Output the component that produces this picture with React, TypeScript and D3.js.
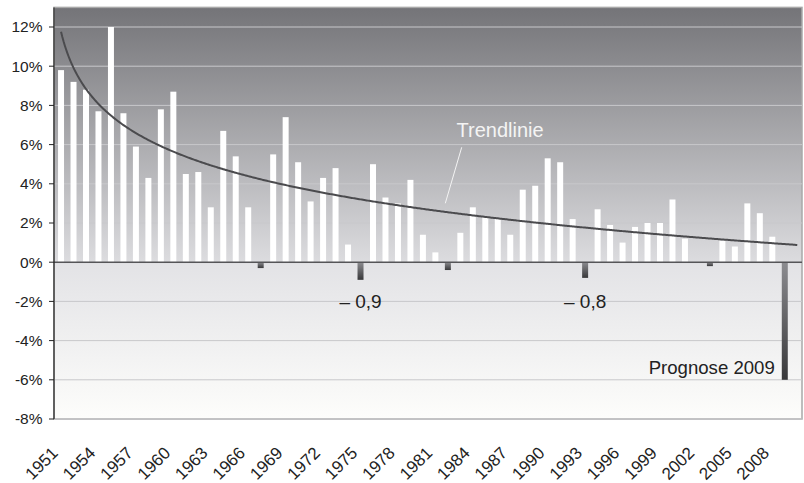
import React from "react";
import * as d3 from "d3";

const years: number[] = d3.range(1951, 2011); // 2010 slot is empty
const growth: number[] = [
  9.8, 9.2, 8.8, 7.7, 12.0, 7.6, 5.9, 4.3, 7.8, 8.7,
  4.5, 4.6, 2.8, 6.7, 5.4, 2.8, -0.3, 5.5, 7.4, 5.1,
  3.1, 4.3, 4.8, 0.9, -0.9, 5.0, 3.3, 3.0, 4.2, 1.4,
  0.5, -0.4, 1.5, 2.8, 2.3, 2.2, 1.4, 3.7, 3.9, 5.3,
  5.1, 2.2, -0.8, 2.7, 1.9, 1.0, 1.8, 2.0, 2.0, 3.2,
  1.2, 0.0, -0.2, 1.1, 0.8, 3.0, 2.5, 1.3, -6.0,
];
const yTicks: number[] = [-8, -6, -4, -2, 0, 2, 4, 6, 8, 10, 12];
const xTickYears: number[] = [1951, 1954, 1957, 1960, 1963, 1966, 1969, 1972, 1975, 1978, 1981, 1984, 1987, 1990, 1993, 1996, 1999, 2002, 2005, 2008];
const annotations = [
  { year: 1975, text: "\u2013 0,9" },
  { year: 1993, text: "\u2013 0,8" },
];
const forecastLabel = "Prognose 2009";
const trendLabel = "Trendlinie";

const W = 804;
const H = 483;
const L = 54;
const R = 802;
const T = 7.4;
const B = 419;
const FONT = "'Liberation Sans', Arial, Helvetica, sans-serif";

export default function App() {
  const x = d3.scaleBand<number>().domain(years).range([54.8, 803.5]).paddingInner(0.52).paddingOuter(0.26);
  const y = d3.scaleLinear().domain([-8, 13]).range([B, T]);
  const cx = (yr: number) => (x(yr) as number) + x.bandwidth() / 2;

  // logarithmic trend fitted to the data (least squares on ln(index))
  const lx = growth.map((_, i) => Math.log(i + 1));
  const mx = d3.mean(lx) as number;
  const my = d3.mean(growth) as number;
  let sxy = 0, sxx = 0;
  lx.forEach((v, i) => { sxy += (v - mx) * (growth[i] - my); sxx += (v - mx) * (v - mx); });
  const slope = sxy / sxx;
  const icpt = my - slope * mx;
  const xIdx = d3.scaleLinear().domain([1, years.length]).range([cx(years[0]), cx(years[years.length - 1])]);
  const trendPts: [number, number][] = d3.range(1, years.length + 0.001, 0.1).map((t) => [xIdx(t), y(icpt + slope * Math.log(t))]);
  const trendPath = d3.line()(trendPts) as string;

  const y0 = y(0);

  return (
    <svg width={W} height={H} style={{ position: "absolute", left: 0, top: 0, background: "#fff" }} fontFamily={FONT}>
      <defs>
        <linearGradient id="bg" x1="0" y1="0" x2="0" y2="1">
          <stop offset="0" stopColor="#747478" />
          <stop offset={(y0 - T) / (B - T)} stopColor="#dcdcdf" />
          <stop offset={(y0 - T) / (B - T) + 0.005} stopColor="#e3e3e6" />
          <stop offset="1" stopColor="#fdfdfb" />
        </linearGradient>
        <linearGradient id="neg" x1="0" y1="0" x2="0" y2="1">
          <stop offset="0" stopColor="#8c8c90" />
          <stop offset="1" stopColor="#38383a" />
        </linearGradient>
      </defs>
      <rect x={L} y={T} width={R - L} height={B - T} fill="url(#bg)" stroke="#a8a8a8" strokeWidth={1.5} />
      {yTicks.filter((t) => t !== 0).map((t) => (
        <line key={"g" + t} x1={L} x2={R} y1={y(t)} y2={y(t)} stroke="#c8c8cb" strokeWidth={1} />
      ))}
      {growth.map((v, i) => (
        <rect
          key={years[i]}
          x={x(years[i])}
          width={x.bandwidth()}
          y={v >= 0 ? y(v) : y0}
          height={Math.abs(y(v) - y0)}
          fill={v >= 0 ? "#ffffff" : "url(#neg)"}
        />
      ))}
      <line x1={L} x2={R} y1={y0} y2={y0} stroke="#555558" strokeWidth={1.5} />
      <path d={trendPath} fill="none" stroke="#4b4b4e" strokeWidth={2} />
      <line x1={461.7} y1={147.3} x2={445.3} y2={203.3} stroke="#f4f4f4" strokeWidth={1} />
      <text x={456.5} y={136.7} fontSize={20} fill="#f4f4f4">{trendLabel}</text>
      {annotations.map((a) => (
        <text key={a.year} x={cx(a.year)} y={308} fontSize={19} fill="#222" textAnchor="middle">{a.text}</text>
      ))}
      <text x={(x(2009) as number) - 7} y={374} fontSize={18.6} fill="#222" textAnchor="end">{forecastLabel}</text>
      <line x1={L} x2={L} y1={T} y2={B} stroke="#222" strokeWidth={1.2} />
      {yTicks.map((t) => (
        <g key={"t" + t}>
          <line x1={L - 5} x2={L} y1={y(t)} y2={y(t)} stroke="#222" strokeWidth={1} />
          <text x={42.5} y={y(t)} dy="0.35em" fontSize={15.5} fill="#222" textAnchor="end">{t + "%"}</text>
        </g>
      ))}
      {xTickYears.map((yr) => (
        <text key={"x" + yr} transform={`translate(${cx(yr) - 2},${454}) rotate(-45)`} fontSize={17} fill="#222" textAnchor="end">{yr}</text>
      ))}
    </svg>
  );
}
